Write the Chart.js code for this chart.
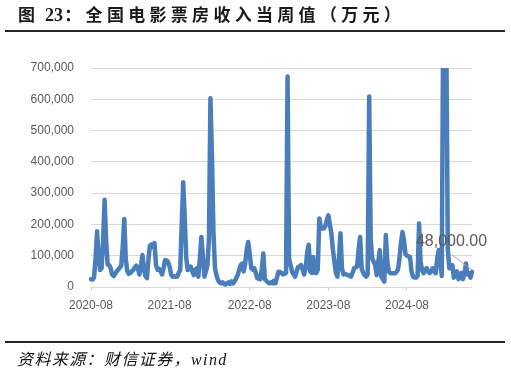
<!DOCTYPE html>
<html>
<head>
<meta charset="utf-8">
<script src="https://cdn.jsdelivr.net/npm/chart.js@4/dist/chart.umd.min.js"></script>
<style>
  html, body { margin: 0; padding: 0; background: #fff; }
  #wrap { position: relative; width: 511px; height: 374px; overflow: hidden; }
  #chart { position: absolute; left: 0; top: 0; }
  .title {
    position: absolute; left: 18px; top: 5px; white-space: nowrap;
    font: bold 17px "Noto Sans CJK SC", sans-serif; line-height: 17px;
    letter-spacing: 4.3px; color: #1a1a1a;
  }
  .title .num { letter-spacing: 0; margin-left: 5.7px; margin-right: 1.3px; font-family: "Liberation Serif", serif; font-size: 18px; }
  .rule { position: absolute; left: 5px; width: 500px; height: 2px; background: #262626; }
  .source {
    position: absolute; left: 17px; top: 351px; white-space: nowrap;
    font: italic 16px "Liberation Serif", "Noto Sans CJK SC", serif; line-height: 18px;
    letter-spacing: 1.4px; color: #111;
  }
</style>
</head>
<body>
<div id="wrap">
  <canvas id="chart" width="511" height="374"></canvas>
  <div class="title">图<span class="num">23</span>：全国电影票房收入当周值（万元）</div>
  <div class="rule" style="top:30px"></div>
  <div class="rule" style="top:341px"></div>
  <div class="source">资料来源：财信证券，wind</div>
</div>
<script>
// 全国电影票房收入当周值（万元），周度，2020-08 起
const boxOffice = [
  25000, 24000, 30000, 90000, 178000, 100000, 54000, 60000, 150000, 279000,
  150000, 72000, 70000, 60000, 40000, 35000, 42000, 50000, 55000, 62000,
  68000, 130000, 217000, 90000, 50000, 42000, 45000, 50000, 55000, 62000,
  68000, 60000, 40000, 65000, 102000, 60000, 35000, 28000, 90000, 132000,
  136000, 128000, 140000, 70000, 55000, 58000, 50000, 40000, 60000, 86000,
  85000, 80000, 65000, 40000, 33000, 35000, 33000, 33000, 45000, 54000,
  200000, 335000, 220000, 92000, 54000, 60000, 65000, 50000, 38000, 55000,
  60000, 33000, 90000, 160000, 100000, 33000, 50000, 70000, 150000, 603000,
  420000, 176000, 60000, 38000, 22000, 15000, 12000, 15000, 10000, 8000,
  12000, 15000, 10000, 18000, 12000, 18000, 28000, 38000, 55000, 70000,
  75000, 50000, 75000, 120000, 144000, 105000, 60000, 55000, 60000, 45000,
  28000, 26000, 25000, 60000, 107000, 25000, 20000, 15000, 12000, 15000,
  12000, 20000, 12000, 30000, 49000, 48000, 45000, 40000, 42000, 45000,
  673000, 91000, 70000, 49000, 40000, 33000, 50000, 64000, 66000, 70000,
  55000, 40000, 60000, 110000, 135000, 50000, 45000, 96000, 45000, 45000,
  55000, 219000, 190000, 187000, 187000, 195000, 215000, 229000, 200000, 170000,
  120000, 80000, 45000, 33000, 90000, 172000, 60000, 40000, 42000, 40000,
  38000, 36000, 33000, 45000, 60000, 63000, 65000, 120000, 160000, 60000,
  45000, 38000, 33000, 40000, 609000, 150000, 91000, 80000, 70000, 38000,
  80000, 118000, 33000, 25000, 17000, 166000, 80000, 49000, 44000, 44000,
  44000, 44000, 48000, 55000, 90000, 140000, 176000, 150000, 105000, 100000,
  98000, 96000, 50000, 33000, 30000, 30000, 35000, 203000, 80000, 54000,
  44000, 55000, 60000, 49000, 45000, 49000, 60000, 50000, 44000, 90000,
  118000, 86000, 35000, 900000, 900000, 800000, 120000, 60000, 60000, 70000,
  30000, 40000, 50000, 25000, 35000, 45000, 25000, 44000, 75000, 40000,
  44000, 30000, 48000
];

// 周度日期（每周日）
const startDate = Date.UTC(2020, 7, 2);
const weeks = boxOffice.map((_, i) =>
  new Date(startDate + i * 7 * 86400000).toISOString().slice(0, 10));

const xTickLabels = ['2020-08', '2021-08', '2022-08', '2023-08', '2024-08'];
const yTicks = [0, 100000, 200000, 300000, 400000, 500000, 600000, 700000];

const xTickIndex = xTickLabels.map(m => weeks.findIndex(w => w.startsWith(m)));

const gray = '#d9d9d9';
const tickFont = { family: 'Liberation Sans', size: 12 };

// 最后一个数据点的标签
const lastLabel = {
  id: 'lastLabel',
  afterDatasetsDraw(chart) {
    const meta = chart.getDatasetMeta(0);
    const p = meta.data[meta.data.length - 1];
    const v = boxOffice[boxOffice.length - 1];
    const ctx = chart.ctx;
    ctx.save();
    ctx.strokeStyle = '#a6a6a6';
    ctx.lineWidth = 1;
    ctx.beginPath();
    ctx.moveTo(p.x - 20, p.y - 17);
    ctx.lineTo(p.x, p.y - 2);
    ctx.stroke();
    ctx.fillStyle = '#595959';
    ctx.font = '16px "Liberation Sans"';
    ctx.textAlign = 'center';
    ctx.textBaseline = 'middle';
    ctx.fillText(v.toLocaleString('en-US', { minimumFractionDigits: 2 }), p.x - 20.5, p.y - 30);
    ctx.restore();
  }
};

new Chart(document.getElementById('chart'), {
  type: 'line',
  data: {
    labels: weeks,
    datasets: [{
      data: boxOffice,
      borderColor: '#4a7ebb',
      borderWidth: 4.5,
      borderJoinStyle: 'round',
      borderCapStyle: 'round',
      pointRadius: 0,
      tension: 0,
      fill: false
    }]
  },
  options: {
    responsive: false,
    animation: false,
    layout: { padding: { left: 31, right: 39, top: 68, bottom: 60 } },
    plugins: { legend: { display: false }, tooltip: { enabled: false } },
    scales: {
      x: {
        type: 'category',
        offset: false,
        afterBuildTicks: axis => {
          axis.ticks = axis.ticks.filter(t => xTickIndex.includes(t.value));
        },
        afterFit: axis => { axis.height = 27; },
        grid: { drawOnChartArea: false, drawTicks: true, tickLength: 4, color: gray },
        border: { display: false },
        ticks: {
          autoSkip: false,
          maxRotation: 0,
          padding: 7,
          color: '#595959',
          font: tickFont,
          callback: v => xTickLabels[xTickIndex.indexOf(v)]
        }
      },
      y: {
        min: 0,
        max: 700000,
        afterBuildTicks: axis => { axis.ticks = yTicks.map(v => ({ value: v })); },
        afterFit: axis => { axis.width = 60; },
        grid: { color: gray, lineWidth: 1, drawTicks: false },
        border: { display: false },
        ticks: {
          padding: 17,
          color: '#595959',
          font: tickFont,
          callback: v => v.toLocaleString('en-US')
        }
      }
    }
  },
  plugins: [lastLabel]
});
</script>
</body>
</html>
